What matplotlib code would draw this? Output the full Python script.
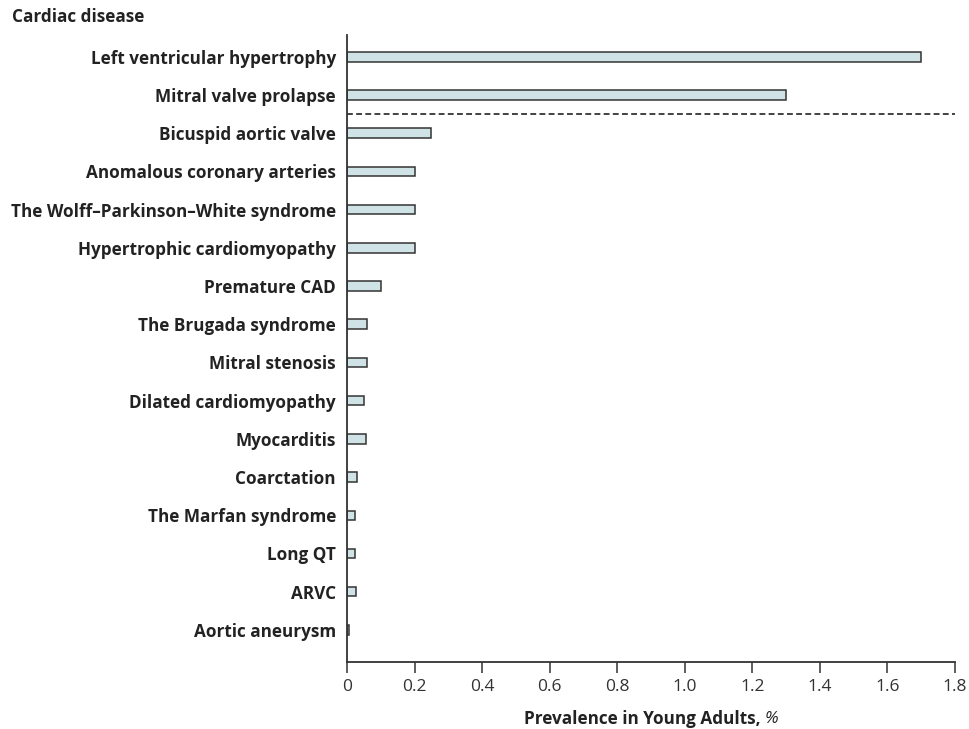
import matplotlib.pyplot as plt

plt.rcParams['font.family'] = ['Open Sans', 'DejaVu Sans']

diseases = ['Left ventricular hypertrophy', 'Mitral valve prolapse', 'Bicuspid aortic valve',
            'Anomalous coronary arteries', 'The Wolff\u2013Parkinson\u2013White syndrome',
            'Hypertrophic cardiomyopathy', 'Premature CAD', 'The Brugada syndrome',
            'Mitral stenosis', 'Dilated cardiomyopathy', 'Myocarditis', 'Coarctation',
            'The Marfan syndrome', 'Long QT', 'ARVC', 'Aortic aneurysm']
prevalence = [1.7, 1.3, 0.25, 0.2, 0.2, 0.2, 0.1, 0.06, 0.06, 0.05, 0.055, 0.03,
              0.025, 0.025, 0.028, 0.005]
xticks = [0, 0.2, 0.4, 0.6, 0.8, 1.0, 1.2, 1.4, 1.6, 1.8]
xticklabels = ['0', '0.2', '0.4', '0.6', '0.8', '1.0', '1.2', '1.4', '1.6', '1.8']

fig = plt.figure(figsize=(9.69, 7.29), dpi=100)
ax = fig.add_axes([0.3581, 0.0919, 0.6275, 0.8601])

ypos = list(range(len(diseases)))
ax.barh(ypos, prevalence, height=0.25, color='#cfe2e5', edgecolor='#333333', linewidth=1.1)
ax.plot([0, 1.8], [1.5, 1.5], color='#222222', linestyle=(0, (3.5, 2)), linewidth=1.2, clip_on=False)

ax.set_xlim(0, 1.8)
ax.set_ylim(15.84, -0.57)
ax.set_yticks(ypos)
ax.set_yticklabels(diseases, fontsize=12.3, fontweight='bold', color='#222222')
ax.tick_params(axis='y', length=0, pad=8)
ax.set_xticks(xticks)
ax.set_xticklabels(xticklabels, fontsize=12.5, color='#333333')
ax.tick_params(axis='x', direction='out', length=8, width=1.1, color='#333333', pad=4)

for s in ['top', 'right']:
    ax.spines[s].set_visible(False)
for s in ['left', 'bottom']:
    ax.spines[s].set_color('#333333')
    ax.spines[s].set_linewidth(1.3)

# x label: bold text followed by an italic %
xl = fig.text(0.0, 1 - 719 / 729, 'Prevalence in Young Adults, ', fontsize=12.3,
              fontweight='bold', color='#222222', va='center', ha='left')
pc = fig.text(0.0, 1 - 719 / 729, '%', fontsize=12.3, fontstyle='italic',
              color='#222222', va='center', ha='left')
fig.canvas.draw()
r = fig.canvas.get_renderer()
w1 = xl.get_window_extent(r).width
w2 = pc.get_window_extent(r).width
cx = (0.3581 + 0.6275 / 2) * fig.bbox.width
x0 = cx - (w1 + w2) / 2
xl.set_x(x0 / fig.bbox.width)
pc.set_x((x0 + w1) / fig.bbox.width)

fig.text(0.012, 1 - 17 / 729, 'Cardiac disease', fontsize=12.3, fontweight='bold',
         color='#222222', va='center', ha='left')

plt.savefig('out.png', dpi=100)
